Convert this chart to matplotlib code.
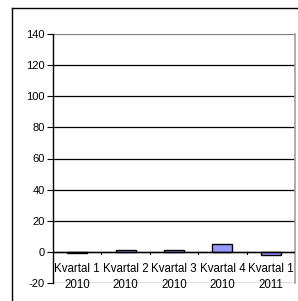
import matplotlib.pyplot as plt
from matplotlib.lines import Line2D
import numpy as np

plt.rcParams['font.family'] = ['Liberation Sans', 'DejaVu Sans']

# data
kvartal = ['Kvartal 1', 'Kvartal 2', 'Kvartal 3', 'Kvartal 4', 'Kvartal 1']
aar = ['2010', '2010', '2010', '2010', '2011']
verdi = [-1, 1, 1, 5, -2]
y_ticks = [-20, 0, 20, 40, 60, 80, 100, 120, 140]

fig = plt.figure(figsize=(2.98, 3.01), dpi=100)
ax = fig.add_axes([53/298, 1-283/301, 242/298, 249/301])

x = np.arange(len(verdi))
ax.bar(x, verdi, width=0.41, color='#9999FF', edgecolor='black', linewidth=1.0, zorder=3)

ax.set_xlim(-0.5, len(verdi) - 0.5)
ax.set_ylim(-20, 140)
ax.set_yticks(y_ticks)
ax.set_yticklabels([str(v) for v in y_ticks], fontsize=8)
ax.tick_params(axis='y', length=4, width=0.8, direction='out', pad=2)
ax.set_xticks([])

# gridlines
for v in y_ticks:
    ax.axhline(v, color='black' if v < 140 else '#808080', linewidth=0.9, zorder=1)

# zero axis with category ticks
ax.axhline(0, color='black', linewidth=1.0, zorder=4)
for b in np.arange(0.5, len(verdi) - 0.5, 1.0):
    ax.plot([b, b], [0, -1.3], color='black', linewidth=0.8, zorder=4, clip_on=False)

# category labels below zero line
for i in range(len(verdi)):
    ax.text(i, -10.8, kvartal[i], ha='center', va='center', fontsize=8.3, zorder=5)
    ax.text(i, -21.0, aar[i], ha='center', va='center', fontsize=8.3, zorder=0)

for s in ['top', 'bottom']:
    ax.spines[s].set_visible(False)
ax.spines['left'].set_color('black')
ax.spines['left'].set_linewidth(1.0)
ax.spines['right'].set_color('#a0a0a0')
ax.spines['right'].set_linewidth(1.2)

# outer chart border
fig.add_artist(Line2D([12/298, 12/298], [0, 1-8/301], color='black', linewidth=1.0))
fig.add_artist(Line2D([12/298, 1], [1-8/301, 1-8/301], color='black', linewidth=1.0))

fig.savefig('out.png', dpi=100)
